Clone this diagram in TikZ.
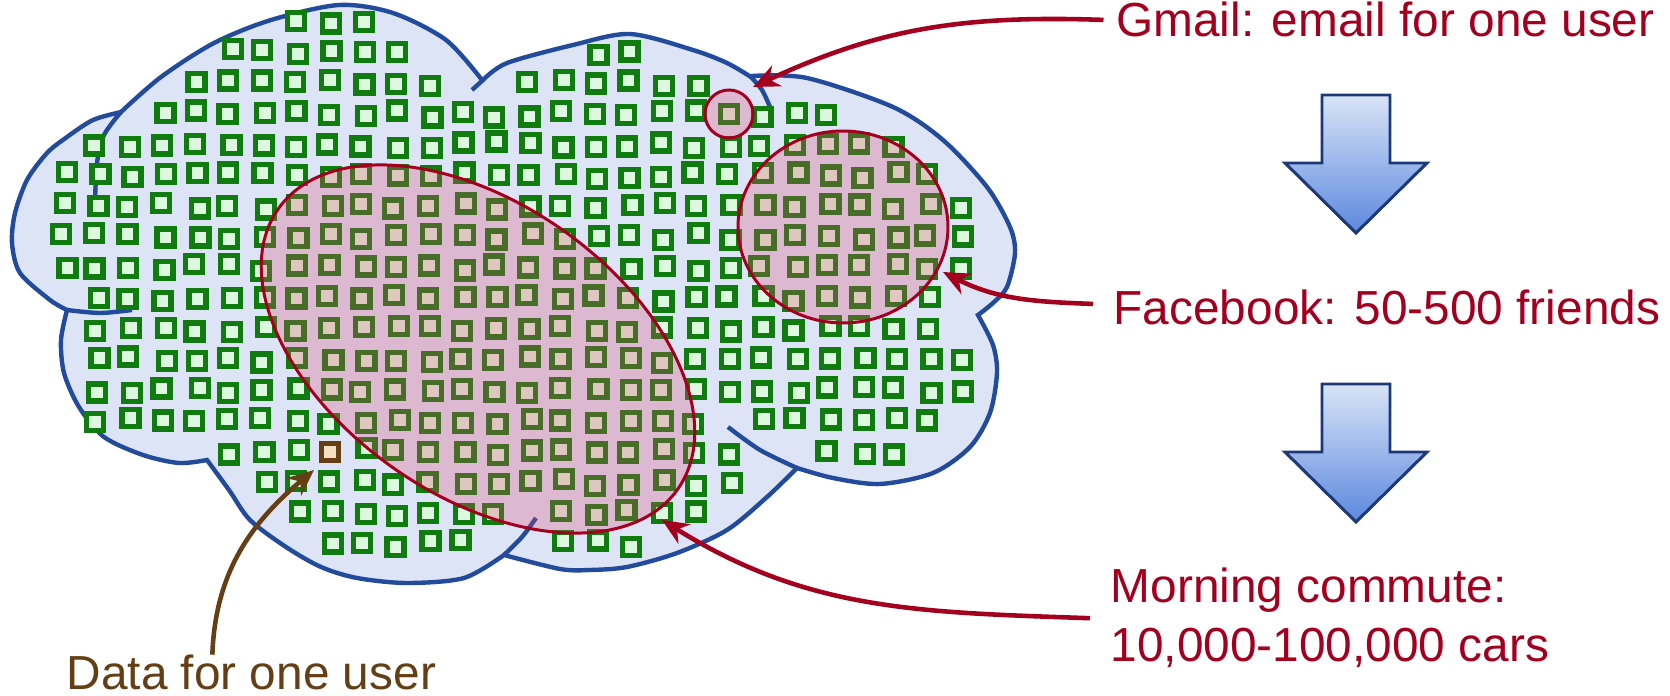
\documentclass[tikz,border=0pt]{standalone}
\usepackage{fontspec}
\setmainfont{Liberation Sans}
\usetikzlibrary{arrows.meta}

\definecolor{cloudfill}{RGB}{220,228,246}
\definecolor{cloudline}{RGB}{35,75,155}
\definecolor{cellfill}{RGB}{220,248,222}
\definecolor{cellline}{RGB}{16,124,16}
\definecolor{userfill}{RGB}{246,222,196}
\definecolor{brownink}{RGB}{100,62,20}
\definecolor{redink}{RGB}{163,0,32}
\definecolor{pinkwash}{RGB}{225,70,110}
\definecolor{arrowtop}{RGB}{216,228,247}
\definecolor{arrowbottom}{RGB}{92,136,222}
\definecolor{arrowline}{RGB}{28,56,120}

\tikzset{>={Stealth[length=7.5pt,width=6.5pt]}}
\tikzset{
  cloud/.style={fill=cloudfill, draw=cloudline, line width=1.25pt},
  seam/.style={draw=cloudline, line width=1.25pt},
  cell/.style={fill=cellfill, draw=cellline, line width=1.5pt},
  usercell/.style={fill=userfill, draw=brownink, line width=1.5pt},
  group/.style={fill=pinkwash, fill opacity=0.27, draw=redink, line width=0.85pt},
  pointer/.style={->, draw=redink, line width=1.3pt},
  caption/.style={inner sep=0pt, anchor=base west, text=redink, font=\fontsize{13.6}{16.8}\selectfont},
  blockarrow/.style={top color=arrowtop, bottom color=arrowbottom, draw=arrowline, line width=0.85pt}
}

\begin{document}
\begin{tikzpicture}

            \useasboundingbox (0,0) rectangle (16.70,-6.96);

            % The cloud, lobe by lobe, clockwise from the upper left
            \draw[cloud]
              plot[smooth] coordinates {(1.21,-1.12) (1.61,-0.77) (2.14,-0.43) (2.71,-0.20) (3.39,-0.05) (3.93,-0.13) (4.46,-0.40) (4.82,-0.80)}
              -- plot[smooth] coordinates {(4.83,-0.80) (5.07,-0.63) (5.73,-0.45) (6.30,-0.34) (6.93,-0.50) (7.27,-0.63) (7.51,-0.77)}
              -- plot[smooth] coordinates {(7.52,-0.76) (8.07,-0.78) (8.93,-1.07) (9.43,-1.40) (9.87,-1.87) (10.10,-2.27) (10.15,-2.53) (10.07,-2.87) (9.93,-3.03) (9.78,-3.15)}
              -- plot[smooth] coordinates {(9.78,-3.15) (9.93,-3.45) (9.97,-3.73) (9.90,-4.13) (9.70,-4.47) (9.33,-4.73) (8.80,-4.84) (8.33,-4.78) (7.97,-4.68)}
              -- plot[smooth] coordinates {(7.97,-4.68) (7.67,-4.97) (7.27,-5.30) (6.77,-5.53) (6.27,-5.67) (5.90,-5.70) (5.60,-5.69) (5.04,-5.55)}
              -- plot[smooth] coordinates {(5.04,-5.55) (4.64,-5.78) (4.07,-5.83) (3.57,-5.78) (3.21,-5.67) (2.86,-5.47) (2.50,-5.20) (2.29,-4.90) (2.07,-4.60)}
              -- plot[smooth] coordinates {(2.07,-4.60) (1.79,-4.63) (1.43,-4.55) (1.04,-4.37) (0.79,-4.07) (0.64,-3.73) (0.61,-3.40) (0.67,-3.10)}
              -- plot[smooth] coordinates {(0.67,-3.10) (0.50,-3.00) (0.20,-2.73) (0.12,-2.43) (0.15,-2.13) (0.27,-1.80) (0.47,-1.53) (0.67,-1.37) (0.93,-1.20) (1.21,-1.12)}
              -- cycle;

            % Bits of the lobes that run on inside the cloud
            \draw[seam] plot[smooth] coordinates {(1.21,-1.12) (1.04,-1.35) (0.97,-1.63) (0.95,-2.03)};
            \draw[seam] plot[smooth] coordinates {(0.67,-3.10) (1.00,-3.13) (1.32,-3.10)};
            \draw[seam] plot[smooth] coordinates {(5.04,-5.55) (5.22,-5.37) (5.36,-5.18)};
            \draw[seam] plot[smooth] coordinates {(7.97,-4.68) (7.60,-4.50) (7.28,-4.27)};
            \draw[seam] plot[smooth] coordinates {(7.51,-0.77) (7.62,-0.90) (7.70,-1.07)};
            \draw[seam] (4.72,-0.90) -- (4.83,-0.80);

            % Data cells: row / first column / last column
            \pgfmathsetseed{7}
            \foreach \k/\mfrom/\mto in {-3/-1/1, -2/-3/2, -2/8/9, -1/-4/3, -1/6/11,
                0/-5/15, 1/-7/17, 2/-8/18, 3/-8/19, 4/-8/19, 5/-8/19, 6/-7/18, 7/-7/18,
                8/-7/19, 9/-7/19, 10/-7/11, 10/13/18, 11/-3/12, 11/15/17, 12/-2/12,
                13/-1/5, 13/7/11, 14/0/4, 14/7/9}{
              \foreach \m in {\mfrom,...,\mto}{
                \pgfmathsetmacro\jit{(((\k)==0)&&((\m)==12))||(((\k)==11)&&((\m)==0)) ? 0 : 0.035}
                \pgfmathsetmacro\sx{3.30+0.3325*(\m)+\jit*rand}
                \pgfmathsetmacro\sy{-1.14-0.307*(\k)+\jit*rand}
                \draw[cell] (\sx-0.085,\sy-0.085) rectangle (\sx+0.085,\sy+0.085);
              }
            }

            % The one user's cell
            \draw[usercell] (3.215,-4.602) rectangle (3.385,-4.432);

            % Groups of cells
            \draw[group, rotate around={-35:(4.78,-3.49)}] (4.78,-3.49) ellipse [x radius=2.44, y radius=1.46];
            \draw[group] (8.43,-2.27) ellipse [x radius=1.05, y radius=0.96];
            \draw[group] (7.29,-1.14) circle (0.24);

            % Down arrows between the captions
            \foreach \y in {0,-2.89}{
              \shadedraw[blockarrow, yshift=\y cm] (13.22,-0.95) -- (13.90,-0.95) -- (13.90,-1.63) -- (14.27,-1.63)
                -- (13.56,-2.33) -- (12.85,-1.63) -- (13.22,-1.63) -- cycle;
            }

            % Captions
            \node[caption] (gmail) at (11.155,-0.37) {Gmail: email for one user};
            \node[caption] (fb) at (11.13,-3.25) {Facebook: 50-500 friends};
            \node[caption, align=left] (commute) at (11.10,-6.62) {Morning commute:\\10,000-100,000 cars};
            \node[caption, text=brownink] (data) at (0.66,-6.90) {Data for one user};

            % Arrow ends
            \coordinate (inbox) at (7.53,-0.87);
            \coordinate (friends) at (9.43,-2.72);
            \coordinate (cars) at (6.62,-5.20);
            \coordinate (userdata) at (3.14,-4.70);

            % Pointers from the captions
            \draw[pointer] ([xshift=-0.12cm]gmail.west) to[out=178,in=25] (inbox);
            \draw[pointer] ([xshift=-0.2cm,yshift=0.04cm]fb.west) to[out=178,in=-27] (friends);
            \draw[pointer] ([xshift=-0.2cm]commute.west) to[out=178,in=-32] (cars);
            \draw[pointer, draw=brownink] ([xshift=-0.39cm]data.north) to[out=88,in=-140] (userdata);

\end{tikzpicture}
\end{document}
